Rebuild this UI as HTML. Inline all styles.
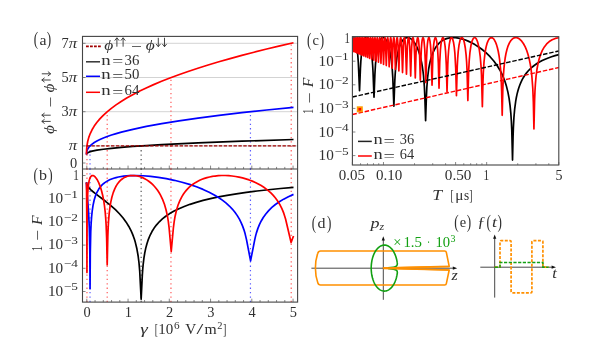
<!DOCTYPE html>
<html><head><meta charset="utf-8"><title>figure</title>
<style>.t{filter:opacity(1)}html,body{margin:0;padding:0;background:#fff;}body{width:598px;height:353px;overflow:hidden;font-family:"Liberation Serif",serif;}</style>
</head><body>
<svg width="598" height="353" viewBox="0 0 598 353" style="display:block">
<rect width="598" height="353" fill="#fff"/>
<defs><clipPath id="ca"><rect x="82.5" y="36.4" width="215.1" height="132.6"/></clipPath>
<clipPath id="cb"><rect x="82.5" y="169.0" width="215.1" height="133.1"/></clipPath>
<clipPath id="cc"><rect x="352.4" y="35.7" width="206.8" height="129.3"/></clipPath></defs>
<line x1="82.5" x2="297.6" y1="43.30" y2="43.30" stroke="#c8c8c8" stroke-width="0.8"/>
<line x1="82.5" x2="297.6" y1="77.50" y2="77.50" stroke="#c8c8c8" stroke-width="0.8"/>
<line x1="82.5" x2="297.6" y1="111.70" y2="111.70" stroke="#c8c8c8" stroke-width="0.8"/>
<line x1="82.5" x2="297.6" y1="145.90" y2="145.90" stroke="#c8c8c8" stroke-width="0.8"/>
<line x1="86.96" x2="86.96" y1="169.00" y2="145.90" stroke="#ff5a5a" stroke-width="1.2" stroke-dasharray="1.3 3.1" />
<line x1="107.20" x2="107.20" y1="169.00" y2="111.70" stroke="#ff5a5a" stroke-width="1.2" stroke-dasharray="1.3 3.1" />
<line x1="170.96" x2="170.96" y1="169.00" y2="77.50" stroke="#ff5a5a" stroke-width="1.2" stroke-dasharray="1.3 3.1" />
<line x1="291.22" x2="291.22" y1="169.00" y2="43.30" stroke="#ff5a5a" stroke-width="1.2" stroke-dasharray="1.3 3.1" />
<line x1="90.02" x2="90.02" y1="169.00" y2="145.90" stroke="#5a5aff" stroke-width="1.2" stroke-dasharray="1.3 3.1" />
<line x1="250.44" x2="250.44" y1="169.00" y2="111.70" stroke="#5a5aff" stroke-width="1.2" stroke-dasharray="1.3 3.1" />
<line x1="141.15" x2="141.15" y1="169.00" y2="145.90" stroke="#555" stroke-width="1.2" stroke-dasharray="1.3 3.1" />
<g clip-path="url(#ca)" fill="none" stroke-width="1.7" stroke-linejoin="round" stroke-linecap="butt">
<path d="M86.5 154.45L86.62 153.8L87.02 153.24L87.75 152.7L88.83 152.18L90.28 151.67L92.1 151.17L96.89 150.19L103.37 149.23L111.49 148.29L121.33 147.37L132.89 146.47L146.4 145.56L161.75 144.67L198.04 142.91L241.91 141.19L293.5 139.49" stroke="#000"/>
<path d="M86.5 154.45L86.62 152.41L87.02 150.63L87.75 148.93L88.83 147.29L90.28 145.68L92.1 144.1L94.3 142.56L96.89 141.03L99.92 139.51L103.37 138.01L107.22 136.52L111.49 135.06L116.19 133.6L121.33 132.15L132.89 129.3L146.4 126.45L161.75 123.64L178.96 120.85L198.04 118.1L219.02 115.37L241.91 112.66L266.73 109.98L293.5 107.32" stroke="#00f"/>
<path d="M86.5 154.45L86.61 149.56L87.01 145.31L87.74 141.25L88.8 137.36L90.23 133.53L92.04 129.78L94.23 126.1L96.8 122.49L99.82 118.89L103.24 115.32L107.08 111.8L111.34 108.32L116.03 104.87L121.15 101.45L126.7 98.07L132.68 94.71L139.21 91.32L146.19 87.96L153.63 84.62L161.54 81.3L169.91 78L178.75 74.72L188.06 71.46L197.85 68.21L208.11 64.98L218.87 61.76L230.09 58.56L241.8 55.37L253.99 52.2L266.67 49.04L279.84 45.89L293.5 42.76" stroke="#f00"/>
<line x1="86.5" x2="297.6" y1="145.90" y2="145.90" stroke="#a00000" stroke-width="1.35" stroke-dasharray="3.4 1.5"/>
</g>
<line x1="86.96" x2="86.96" y1="302.10" y2="169.00" stroke="#ff5a5a" stroke-width="1.2" stroke-dasharray="1.3 3.1" />
<line x1="107.20" x2="107.20" y1="302.10" y2="169.00" stroke="#ff5a5a" stroke-width="1.2" stroke-dasharray="1.3 3.1" />
<line x1="170.96" x2="170.96" y1="302.10" y2="169.00" stroke="#ff5a5a" stroke-width="1.2" stroke-dasharray="1.3 3.1" />
<line x1="291.22" x2="291.22" y1="302.10" y2="169.00" stroke="#ff5a5a" stroke-width="1.2" stroke-dasharray="1.3 3.1" />
<line x1="90.02" x2="90.02" y1="302.10" y2="169.00" stroke="#5a5aff" stroke-width="1.2" stroke-dasharray="1.3 3.1" />
<line x1="250.44" x2="250.44" y1="302.10" y2="169.00" stroke="#5a5aff" stroke-width="1.2" stroke-dasharray="1.3 3.1" />
<line x1="141.15" x2="141.15" y1="302.10" y2="169.00" stroke="#555" stroke-width="1.2" stroke-dasharray="1.3 3.1" />
<g clip-path="url(#cb)" fill="none" stroke-width="1.7" stroke-linejoin="round">
<path d="M86.5 182.48L86.55 183.34L86.71 184.14L87.43 185.8L88.72 187.6L90.63 189.6L92.48 191.25L94.8 193.15L105.48 201.3L110.56 205.39L115.43 209.72L119.65 213.98L123.11 218.01L126.15 222.15L128.82 226.44L131.14 230.94L132.33 233.63L133.42 236.42L134.42 239.34L135.33 242.36L136.88 248.82L138.14 256.01L139.03 263.25L139.73 271.35L141.15 299.29L142.31 275.35L142.72 269.38L143.21 264.03L143.91 258.23L144.76 252.94L145.76 248.12L146.94 243.66L148.38 239.3L150.06 235.28L151.97 231.56L154.13 228.08L156.58 224.84L159.31 221.8L162.36 218.95L165.73 216.26L169.7 213.58L174.09 211.05L178.92 208.67L184.21 206.43L189.99 204.32L196.27 202.32L203.09 200.43L210.48 198.65L218.49 196.95L227.11 195.35L236.38 193.83L246.32 192.39L256.99 191.02L268.38 189.73L280.54 188.51L293.5 187.35" stroke="#000"/>
<path d="M86.5 182.48L86.56 185.82L86.77 189.63L88.05 205.13L88.62 213.34L89.33 228.68L89.81 250.95L90.06 288.62L90.3 252.52L90.74 231.98L91.12 223.68L91.62 216.62L92.27 210.51L93.07 205.22L94.12 200.3L95.4 196.03L96.94 192.3L98.76 189.05L99.8 187.58L100.91 186.2L102.12 184.92L103.42 183.74L104.81 182.64L106.29 181.62L107.89 180.69L109.59 179.84L111.6 178.99L113.74 178.23L116.01 177.57L118.44 177L123.72 176.14L129.6 175.64L136.1 175.5L143.11 175.74L150.57 176.36L158.33 177.33L166.3 178.65L174.25 180.3L182.01 182.23L189.47 184.41L196.5 186.81L203.06 189.41L209.15 192.19L214.74 195.17L218.87 197.7L222.68 200.34L226.18 203.12L229.38 206.02L232.29 209.06L234.93 212.27L237.29 215.63L239.41 219.19L241.11 222.56L242.61 226.09L243.96 229.85L245.13 233.83L246.5 239.67L250.58 260.85L254.76 239.58L255.55 236.12L256.42 232.88L257.81 228.62L259.41 224.66L261.22 220.97L263.26 217.51L265.8 213.94L268.66 210.59L271.86 207.45L275.41 204.5L279.34 201.73L283.65 199.13L288.37 196.68L293.5 194.39" stroke="#00f"/>
<path d="M86.5 182.48L86.83 224.94L86.94 272.48L87.12 217.7L87.35 203.46L87.73 193.32L88.02 189.07L88.37 185.51L88.79 182.56L89.29 180.15L89.89 178.25L90.58 176.85L91.37 175.94L91.8 175.67L92.26 175.53L92.98 175.54L93.74 175.82L94.53 176.36L95.36 177.16L96.2 178.2L97.04 179.47L98.69 182.63L100.18 186.37L101.54 190.68L102.72 195.51L103.74 200.8L104.49 205.91L105.14 211.5L105.67 217.66L106.1 224.38L106.65 238.28L107.2 264.81L107.82 236.4L108.14 228.1L108.56 220.83L109.15 213.83L109.89 207.59L110.78 202.13L111.86 197.24L113.23 192.62L114.84 188.59L115.73 186.79L116.7 185.11L117.73 183.56L118.82 182.16L119.98 180.88L121.21 179.74L122.51 178.72L123.88 177.85L125.31 177.11L126.79 176.51L128.34 176.04L129.94 175.72L131.94 175.52L134 175.53L136.12 175.75L138.26 176.17L140.41 176.8L142.56 177.63L144.68 178.65L146.76 179.86L148.76 181.22L150.7 182.75L152.56 184.43L154.32 186.25L155.98 188.21L157.55 190.3L159.02 192.52L160.39 194.88L162.57 199.38L164.44 204.29L166.02 209.69L167.35 215.64L168.27 221.17L169.04 227.28L171.22 251.54L173.42 227.53L174.18 221.6L175.1 216.2L176.42 210.45L177.99 205.28L179.86 200.6L182.03 196.37L183.33 194.27L184.74 192.27L186.24 190.4L187.85 188.63L189.56 186.97L191.37 185.42L193.29 183.98L195.31 182.65L197.44 181.42L199.68 180.3L202.01 179.3L204.45 178.42L206.98 177.64L209.59 176.98L212.3 176.45L215.07 176.03L218.36 175.69L221.73 175.52L225.15 175.52L228.61 175.67L232.1 175.99L235.59 176.47L239.06 177.11L242.49 177.9L245.84 178.84L249.11 179.92L252.3 181.13L255.37 182.48L258.32 183.96L261.14 185.55L263.83 187.27L266.36 189.1L268.82 191.09L271.11 193.2L273.25 195.42L275.25 197.76L277.09 200.21L278.79 202.81L280.35 205.52L281.77 208.38L282.84 210.83L283.83 213.42L285.57 218.96L291.1 242.53L293.5 235.95" stroke="#f00"/>
</g>
<rect x="82.5" y="36.4" width="215.1" height="265.7" fill="none" stroke="#444" stroke-width="1.1"/>
<line x1="82.5" x2="297.6" y1="169.0" y2="169.0" stroke="#444" stroke-width="1.1"/>
<line x1="82.50" y1="163.00" x2="85.50" y2="163.00" stroke="#555" stroke-width="0.7"/>
<line x1="82.50" y1="145.90" x2="85.50" y2="145.90" stroke="#555" stroke-width="0.7"/>
<line x1="82.50" y1="111.70" x2="85.50" y2="111.70" stroke="#555" stroke-width="0.7"/>
<line x1="82.50" y1="77.50" x2="85.50" y2="77.50" stroke="#555" stroke-width="0.7"/>
<line x1="82.50" y1="43.30" x2="85.50" y2="43.30" stroke="#555" stroke-width="0.7"/>
<line x1="82.50" y1="175.50" x2="85.50" y2="175.50" stroke="#555" stroke-width="0.7"/>
<line x1="82.50" y1="198.70" x2="85.50" y2="198.70" stroke="#555" stroke-width="0.7"/>
<line x1="82.50" y1="221.90" x2="85.50" y2="221.90" stroke="#555" stroke-width="0.7"/>
<line x1="82.50" y1="245.10" x2="85.50" y2="245.10" stroke="#555" stroke-width="0.7"/>
<line x1="82.50" y1="268.30" x2="85.50" y2="268.30" stroke="#555" stroke-width="0.7"/>
<line x1="82.50" y1="291.50" x2="85.50" y2="291.50" stroke="#555" stroke-width="0.7"/>
<line x1="86.80" y1="302.10" x2="86.80" y2="298.70" stroke="#555" stroke-width="0.7"/>
<line x1="86.80" y1="169.00" x2="86.80" y2="165.60" stroke="#555" stroke-width="0.7"/>
<line x1="95.05" y1="302.10" x2="95.05" y2="300.00" stroke="#555" stroke-width="0.7"/>
<line x1="95.05" y1="169.00" x2="95.05" y2="166.90" stroke="#555" stroke-width="0.7"/>
<line x1="103.30" y1="302.10" x2="103.30" y2="300.00" stroke="#555" stroke-width="0.7"/>
<line x1="103.30" y1="169.00" x2="103.30" y2="166.90" stroke="#555" stroke-width="0.7"/>
<line x1="111.55" y1="302.10" x2="111.55" y2="300.00" stroke="#555" stroke-width="0.7"/>
<line x1="111.55" y1="169.00" x2="111.55" y2="166.90" stroke="#555" stroke-width="0.7"/>
<line x1="119.80" y1="302.10" x2="119.80" y2="300.00" stroke="#555" stroke-width="0.7"/>
<line x1="119.80" y1="169.00" x2="119.80" y2="166.90" stroke="#555" stroke-width="0.7"/>
<line x1="128.05" y1="302.10" x2="128.05" y2="298.70" stroke="#555" stroke-width="0.7"/>
<line x1="128.05" y1="169.00" x2="128.05" y2="165.60" stroke="#555" stroke-width="0.7"/>
<line x1="136.30" y1="302.10" x2="136.30" y2="300.00" stroke="#555" stroke-width="0.7"/>
<line x1="136.30" y1="169.00" x2="136.30" y2="166.90" stroke="#555" stroke-width="0.7"/>
<line x1="144.55" y1="302.10" x2="144.55" y2="300.00" stroke="#555" stroke-width="0.7"/>
<line x1="144.55" y1="169.00" x2="144.55" y2="166.90" stroke="#555" stroke-width="0.7"/>
<line x1="152.80" y1="302.10" x2="152.80" y2="300.00" stroke="#555" stroke-width="0.7"/>
<line x1="152.80" y1="169.00" x2="152.80" y2="166.90" stroke="#555" stroke-width="0.7"/>
<line x1="161.05" y1="302.10" x2="161.05" y2="300.00" stroke="#555" stroke-width="0.7"/>
<line x1="161.05" y1="169.00" x2="161.05" y2="166.90" stroke="#555" stroke-width="0.7"/>
<line x1="169.30" y1="302.10" x2="169.30" y2="298.70" stroke="#555" stroke-width="0.7"/>
<line x1="169.30" y1="169.00" x2="169.30" y2="165.60" stroke="#555" stroke-width="0.7"/>
<line x1="177.55" y1="302.10" x2="177.55" y2="300.00" stroke="#555" stroke-width="0.7"/>
<line x1="177.55" y1="169.00" x2="177.55" y2="166.90" stroke="#555" stroke-width="0.7"/>
<line x1="185.80" y1="302.10" x2="185.80" y2="300.00" stroke="#555" stroke-width="0.7"/>
<line x1="185.80" y1="169.00" x2="185.80" y2="166.90" stroke="#555" stroke-width="0.7"/>
<line x1="194.05" y1="302.10" x2="194.05" y2="300.00" stroke="#555" stroke-width="0.7"/>
<line x1="194.05" y1="169.00" x2="194.05" y2="166.90" stroke="#555" stroke-width="0.7"/>
<line x1="202.30" y1="302.10" x2="202.30" y2="300.00" stroke="#555" stroke-width="0.7"/>
<line x1="202.30" y1="169.00" x2="202.30" y2="166.90" stroke="#555" stroke-width="0.7"/>
<line x1="210.55" y1="302.10" x2="210.55" y2="298.70" stroke="#555" stroke-width="0.7"/>
<line x1="210.55" y1="169.00" x2="210.55" y2="165.60" stroke="#555" stroke-width="0.7"/>
<line x1="218.80" y1="302.10" x2="218.80" y2="300.00" stroke="#555" stroke-width="0.7"/>
<line x1="218.80" y1="169.00" x2="218.80" y2="166.90" stroke="#555" stroke-width="0.7"/>
<line x1="227.05" y1="302.10" x2="227.05" y2="300.00" stroke="#555" stroke-width="0.7"/>
<line x1="227.05" y1="169.00" x2="227.05" y2="166.90" stroke="#555" stroke-width="0.7"/>
<line x1="235.30" y1="302.10" x2="235.30" y2="300.00" stroke="#555" stroke-width="0.7"/>
<line x1="235.30" y1="169.00" x2="235.30" y2="166.90" stroke="#555" stroke-width="0.7"/>
<line x1="243.55" y1="302.10" x2="243.55" y2="300.00" stroke="#555" stroke-width="0.7"/>
<line x1="243.55" y1="169.00" x2="243.55" y2="166.90" stroke="#555" stroke-width="0.7"/>
<line x1="251.80" y1="302.10" x2="251.80" y2="298.70" stroke="#555" stroke-width="0.7"/>
<line x1="251.80" y1="169.00" x2="251.80" y2="165.60" stroke="#555" stroke-width="0.7"/>
<line x1="260.05" y1="302.10" x2="260.05" y2="300.00" stroke="#555" stroke-width="0.7"/>
<line x1="260.05" y1="169.00" x2="260.05" y2="166.90" stroke="#555" stroke-width="0.7"/>
<line x1="268.30" y1="302.10" x2="268.30" y2="300.00" stroke="#555" stroke-width="0.7"/>
<line x1="268.30" y1="169.00" x2="268.30" y2="166.90" stroke="#555" stroke-width="0.7"/>
<line x1="276.55" y1="302.10" x2="276.55" y2="300.00" stroke="#555" stroke-width="0.7"/>
<line x1="276.55" y1="169.00" x2="276.55" y2="166.90" stroke="#555" stroke-width="0.7"/>
<line x1="284.80" y1="302.10" x2="284.80" y2="300.00" stroke="#555" stroke-width="0.7"/>
<line x1="284.80" y1="169.00" x2="284.80" y2="166.90" stroke="#555" stroke-width="0.7"/>
<line x1="293.05" y1="302.10" x2="293.05" y2="298.70" stroke="#555" stroke-width="0.7"/>
<line x1="293.05" y1="169.00" x2="293.05" y2="165.60" stroke="#555" stroke-width="0.7"/>
<text class="t" x="61.40" y="47.80" font-family="Liberation Serif, serif" font-size="15.50" fill="#303030" textLength="7.20" lengthAdjust="spacingAndGlyphs">7</text>
<text class="t" x="68.80" y="47.80" font-family="Liberation Serif, serif" font-size="15.50" fill="#303030" font-style="italic" textLength="8.40" lengthAdjust="spacingAndGlyphs">π</text>
<text class="t" x="61.40" y="82.00" font-family="Liberation Serif, serif" font-size="15.50" fill="#303030" textLength="7.20" lengthAdjust="spacingAndGlyphs">5</text>
<text class="t" x="68.80" y="82.00" font-family="Liberation Serif, serif" font-size="15.50" fill="#303030" font-style="italic" textLength="8.40" lengthAdjust="spacingAndGlyphs">π</text>
<text class="t" x="61.40" y="116.20" font-family="Liberation Serif, serif" font-size="15.50" fill="#303030" textLength="7.20" lengthAdjust="spacingAndGlyphs">3</text>
<text class="t" x="68.80" y="116.20" font-family="Liberation Serif, serif" font-size="15.50" fill="#303030" font-style="italic" textLength="8.40" lengthAdjust="spacingAndGlyphs">π</text>
<text class="t" x="68.80" y="149.50" font-family="Liberation Serif, serif" font-size="15.50" fill="#303030" font-style="italic" textLength="8.40" lengthAdjust="spacingAndGlyphs">π</text>
<text class="t" x="70.00" y="167.50" font-family="Liberation Serif, serif" font-size="15.50" fill="#303030" textLength="7.20" lengthAdjust="spacingAndGlyphs">0</text>
<text class="t" x="73.20" y="179.70" font-family="Liberation Serif, serif" font-size="15.50" fill="#303030" textLength="5.60" lengthAdjust="spacingAndGlyphs">1</text>
<text class="t" x="48.00" y="202.90" font-family="Liberation Serif, serif" font-size="15.50" fill="#303030" textLength="15.20" lengthAdjust="spacingAndGlyphs">10</text>
<text class="t" x="63.80" y="197.60" font-family="Liberation Serif, serif" font-size="10.80" fill="#303030" textLength="14.20" lengthAdjust="spacingAndGlyphs">−1</text>
<text class="t" x="48.00" y="226.10" font-family="Liberation Serif, serif" font-size="15.50" fill="#303030" textLength="15.20" lengthAdjust="spacingAndGlyphs">10</text>
<text class="t" x="63.80" y="220.80" font-family="Liberation Serif, serif" font-size="10.80" fill="#303030" textLength="14.20" lengthAdjust="spacingAndGlyphs">−2</text>
<text class="t" x="48.00" y="249.30" font-family="Liberation Serif, serif" font-size="15.50" fill="#303030" textLength="15.20" lengthAdjust="spacingAndGlyphs">10</text>
<text class="t" x="63.80" y="244.00" font-family="Liberation Serif, serif" font-size="10.80" fill="#303030" textLength="14.20" lengthAdjust="spacingAndGlyphs">−3</text>
<text class="t" x="48.00" y="272.50" font-family="Liberation Serif, serif" font-size="15.50" fill="#303030" textLength="15.20" lengthAdjust="spacingAndGlyphs">10</text>
<text class="t" x="63.80" y="267.20" font-family="Liberation Serif, serif" font-size="10.80" fill="#303030" textLength="14.20" lengthAdjust="spacingAndGlyphs">−4</text>
<text class="t" x="48.00" y="295.70" font-family="Liberation Serif, serif" font-size="15.50" fill="#303030" textLength="15.20" lengthAdjust="spacingAndGlyphs">10</text>
<text class="t" x="63.80" y="290.40" font-family="Liberation Serif, serif" font-size="10.80" fill="#303030" textLength="14.20" lengthAdjust="spacingAndGlyphs">−5</text>
<text class="t" x="87.20" y="317.30" font-family="Liberation Serif, serif" font-size="15.50" fill="#303030" text-anchor="middle" textLength="7.20" lengthAdjust="spacingAndGlyphs">0</text>
<text class="t" x="128.45" y="317.30" font-family="Liberation Serif, serif" font-size="15.50" fill="#303030" text-anchor="middle" textLength="7.20" lengthAdjust="spacingAndGlyphs">1</text>
<text class="t" x="169.70" y="317.30" font-family="Liberation Serif, serif" font-size="15.50" fill="#303030" text-anchor="middle" textLength="7.20" lengthAdjust="spacingAndGlyphs">2</text>
<text class="t" x="210.95" y="317.30" font-family="Liberation Serif, serif" font-size="15.50" fill="#303030" text-anchor="middle" textLength="7.20" lengthAdjust="spacingAndGlyphs">3</text>
<text class="t" x="252.20" y="317.30" font-family="Liberation Serif, serif" font-size="15.50" fill="#303030" text-anchor="middle" textLength="7.20" lengthAdjust="spacingAndGlyphs">4</text>
<text class="t" x="293.45" y="317.30" font-family="Liberation Serif, serif" font-size="15.50" fill="#303030" text-anchor="middle" textLength="7.20" lengthAdjust="spacingAndGlyphs">5</text>
<text class="t" x="140.20" y="334.40" font-family="Liberation Serif, serif" font-size="15.50" fill="#303030" font-style="italic" textLength="7.60" lengthAdjust="spacingAndGlyphs">γ</text>
<text class="t" x="154.80" y="334.40" font-family="Liberation Serif, serif" font-size="15.50" fill="#303030" textLength="3.20" lengthAdjust="spacingAndGlyphs">[</text>
<text class="t" x="158.20" y="334.40" font-family="Liberation Serif, serif" font-size="15.50" fill="#303030" textLength="15.00" lengthAdjust="spacingAndGlyphs">10</text>
<text class="t" x="174.00" y="329.10" font-family="Liberation Serif, serif" font-size="10.80" fill="#303030" textLength="5.60" lengthAdjust="spacingAndGlyphs">6</text>
<text class="t" x="185.20" y="334.40" font-family="Liberation Serif, serif" font-size="15.50" fill="#303030" textLength="11.00" lengthAdjust="spacingAndGlyphs">V</text>
<text class="t" x="196.60" y="334.40" font-family="Liberation Serif, serif" font-size="15.50" fill="#303030" textLength="6.80" lengthAdjust="spacingAndGlyphs">/</text>
<text class="t" x="204.40" y="334.40" font-family="Liberation Serif, serif" font-size="15.50" fill="#303030" textLength="12.20" lengthAdjust="spacingAndGlyphs">m</text>
<text class="t" x="217.20" y="329.10" font-family="Liberation Serif, serif" font-size="10.80" fill="#303030" textLength="5.20" lengthAdjust="spacingAndGlyphs">2</text>
<text class="t" x="223.00" y="334.40" font-family="Liberation Serif, serif" font-size="15.50" fill="#303030" textLength="3.40" lengthAdjust="spacingAndGlyphs">]</text>
<text class="t" x="33.80" y="45.20" font-family="Liberation Serif, serif" font-size="18.50" fill="#303030" textLength="4.40" lengthAdjust="spacingAndGlyphs">(</text>
<text class="t" x="39.40" y="44.50" font-family="Liberation Serif, serif" font-size="15.50" fill="#303030" textLength="7.00" lengthAdjust="spacingAndGlyphs">a</text>
<text class="t" x="46.70" y="45.20" font-family="Liberation Serif, serif" font-size="18.50" fill="#303030" textLength="4.40" lengthAdjust="spacingAndGlyphs">)</text>
<text class="t" x="33.50" y="180.60" font-family="Liberation Serif, serif" font-size="18.50" fill="#303030" textLength="4.40" lengthAdjust="spacingAndGlyphs">(</text>
<text class="t" x="39.10" y="179.90" font-family="Liberation Serif, serif" font-size="15.50" fill="#303030" textLength="8.00" lengthAdjust="spacingAndGlyphs">b</text>
<text class="t" x="48.30" y="180.60" font-family="Liberation Serif, serif" font-size="18.50" fill="#303030" textLength="4.40" lengthAdjust="spacingAndGlyphs">)</text>
<g transform="translate(54.3,134) rotate(-90)">
<text class="t" x="0.00" y="0.00" font-family="Liberation Serif, serif" font-size="15.50" fill="#303030" font-style="italic" textLength="9.00" lengthAdjust="spacingAndGlyphs">ϕ</text>
<line x1="12.60" x2="12.60" y1="-3.60" y2="-12.50" stroke="#303030" stroke-width="0.9"/>
<path d="M10.40 -9.70 L12.60 -12.50 L14.80 -9.70" fill="none" stroke="#303030" stroke-width="0.9"/>
<line x1="18.80" x2="18.80" y1="-3.60" y2="-12.50" stroke="#303030" stroke-width="0.9"/>
<path d="M16.60 -9.70 L18.80 -12.50 L21.00 -9.70" fill="none" stroke="#303030" stroke-width="0.9"/>
<text class="t" x="26.60" y="1.90" font-family="Liberation Serif, serif" font-size="15.50" fill="#303030" textLength="11.00" lengthAdjust="spacingAndGlyphs">−</text>
<text class="t" x="41.40" y="0.00" font-family="Liberation Serif, serif" font-size="15.50" fill="#303030" font-style="italic" textLength="9.00" lengthAdjust="spacingAndGlyphs">ϕ</text>
<line x1="54.00" x2="54.00" y1="-3.60" y2="-12.50" stroke="#303030" stroke-width="0.9"/>
<path d="M51.80 -9.70 L54.00 -12.50 L56.20 -9.70" fill="none" stroke="#303030" stroke-width="0.9"/>
<line x1="60.20" x2="60.20" y1="-3.60" y2="-12.50" stroke="#303030" stroke-width="0.9"/>
<path d="M58.00 -6.40 L60.20 -3.60 L62.40 -6.40" fill="none" stroke="#303030" stroke-width="0.9"/>
</g>
<g transform="translate(41.8,251.3) rotate(-90)">
<text class="t" x="0.00" y="0.00" font-family="Liberation Serif, serif" font-size="15.50" fill="#303030" textLength="5.40" lengthAdjust="spacingAndGlyphs">1</text>
<text class="t" x="10.60" y="1.60" font-family="Liberation Serif, serif" font-size="15.50" fill="#303030" textLength="11.00" lengthAdjust="spacingAndGlyphs">−</text>
<text class="t" x="26.30" y="0.00" font-family="Liberation Serif, serif" font-size="15.50" fill="#303030" font-style="italic" textLength="9.60" lengthAdjust="spacingAndGlyphs">F</text>
</g>
<line x1="86.0" x2="100.8" y1="46.4" y2="46.4" stroke="#a00000" stroke-width="1.7" stroke-dasharray="2.8 1.2"/>
<text class="t" x="104.30" y="50.30" font-family="Liberation Serif, serif" font-size="15.50" fill="#303030" font-style="italic" textLength="9.00" lengthAdjust="spacingAndGlyphs">ϕ</text>
<line x1="116.90" x2="116.90" y1="46.70" y2="37.80" stroke="#303030" stroke-width="0.9"/>
<path d="M114.70 40.60 L116.90 37.80 L119.10 40.60" fill="none" stroke="#303030" stroke-width="0.9"/>
<line x1="123.10" x2="123.10" y1="46.70" y2="37.80" stroke="#303030" stroke-width="0.9"/>
<path d="M120.90 40.60 L123.10 37.80 L125.30 40.60" fill="none" stroke="#303030" stroke-width="0.9"/>
<text class="t" x="130.90" y="52.20" font-family="Liberation Serif, serif" font-size="15.50" fill="#303030" textLength="11.00" lengthAdjust="spacingAndGlyphs">−</text>
<text class="t" x="145.70" y="50.30" font-family="Liberation Serif, serif" font-size="15.50" fill="#303030" font-style="italic" textLength="9.00" lengthAdjust="spacingAndGlyphs">ϕ</text>
<line x1="158.30" x2="158.30" y1="46.70" y2="37.80" stroke="#303030" stroke-width="0.9"/>
<path d="M156.10 43.90 L158.30 46.70 L160.50 43.90" fill="none" stroke="#303030" stroke-width="0.9"/>
<line x1="164.50" x2="164.50" y1="46.70" y2="37.80" stroke="#303030" stroke-width="0.9"/>
<path d="M162.30 43.90 L164.50 46.70 L166.70 43.90" fill="none" stroke="#303030" stroke-width="0.9"/>
<line x1="86.0" x2="100.0" y1="61.8" y2="61.8" stroke="#333" stroke-width="1.5"/>
<text class="t" x="101.30" y="64.80" font-family="Liberation Serif, serif" font-size="15.50" fill="#303030" textLength="9.40" lengthAdjust="spacingAndGlyphs">n</text>
<text class="t" x="112.20" y="66.30" font-family="Liberation Serif, serif" font-size="15.50" fill="#303030" textLength="11.00" lengthAdjust="spacingAndGlyphs">=</text>
<text class="t" x="124.60" y="64.80" font-family="Liberation Serif, serif" font-size="15.50" fill="#303030" textLength="14.80" lengthAdjust="spacingAndGlyphs">36</text>
<line x1="86.0" x2="100.0" y1="76.3" y2="76.3" stroke="#00f" stroke-width="1.5"/>
<text class="t" x="101.30" y="79.30" font-family="Liberation Serif, serif" font-size="15.50" fill="#303030" textLength="9.40" lengthAdjust="spacingAndGlyphs">n</text>
<text class="t" x="112.20" y="80.80" font-family="Liberation Serif, serif" font-size="15.50" fill="#303030" textLength="11.00" lengthAdjust="spacingAndGlyphs">=</text>
<text class="t" x="124.60" y="79.30" font-family="Liberation Serif, serif" font-size="15.50" fill="#303030" textLength="14.80" lengthAdjust="spacingAndGlyphs">50</text>
<line x1="86.0" x2="100.0" y1="92.3" y2="92.3" stroke="#f00" stroke-width="1.5"/>
<text class="t" x="101.30" y="95.30" font-family="Liberation Serif, serif" font-size="15.50" fill="#303030" textLength="9.40" lengthAdjust="spacingAndGlyphs">n</text>
<text class="t" x="112.20" y="96.80" font-family="Liberation Serif, serif" font-size="15.50" fill="#303030" textLength="11.00" lengthAdjust="spacingAndGlyphs">=</text>
<text class="t" x="124.60" y="95.30" font-family="Liberation Serif, serif" font-size="15.50" fill="#303030" textLength="14.80" lengthAdjust="spacingAndGlyphs">64</text>
<g clip-path="url(#cc)" fill="none" stroke-linejoin="round">
<path d="M352.4 38.62L353 37.81L353.31 37.63L353.62 37.61L353.94 37.73L354.25 38.01L354.87 39.02L355.46 40.6L356.03 42.73L356.56 45.37L357.04 48.49L357.76 54.98L358.34 62.84L359.53 90.68L360.42 68.82L360.86 60.96L361.62 52.4L362.08 48.82L362.6 45.71L363.25 42.77L363.97 40.47L364.74 38.82L365.15 38.25L365.56 37.86L365.98 37.64L366.41 37.61L366.84 37.75L367.27 38.07L368.13 39.24L368.95 41.09L369.93 44.38L370.81 48.63L371.57 53.76L372.21 59.74L372.66 65.54L373.03 72.05L374.01 97.25L374.9 74.37L375.44 64.93L375.87 59.82L376.37 55.28L376.94 51.26L377.6 47.72L378.43 44.38L379.35 41.67L380.36 39.63L380.9 38.87L381.45 38.29L382.02 37.88L382.6 37.65L383.19 37.61L383.78 37.75L384.38 38.07L384.98 38.57L386.15 40.11L386.99 41.69L387.79 43.61L388.55 45.87L389.25 48.43L390.49 54.42L391.51 61.55L392.22 68.93L392.78 77.42L393.87 106.25L394.79 81.18L395.14 74.63L395.58 68.78L396.19 62.76L396.93 57.45L397.81 52.78L398.82 48.73L400.12 44.98L400.83 43.38L401.58 41.96L402.38 40.75L403.22 39.72L404.09 38.89L405 38.27L405.95 37.84L406.92 37.63L407.92 37.62L408.92 37.83L409.94 38.24L410.97 38.86L411.98 39.69L412.99 40.71L414.5 42.65L415.94 45.02L417.29 47.78L418.53 50.9L419.65 54.33L420.66 58.1L421.56 62.2L422.34 66.63L422.96 71.02L423.51 75.77L424.36 86.52L424.85 96.92L425.61 120.65L426.35 97.65L426.8 88.06L427.57 77.99L428.61 69.51L429.3 65.47L430.09 61.76L430.98 58.35L431.98 55.22L433.09 52.37L434.32 49.78L435.66 47.44L437.13 45.36L438.88 43.36L440.79 41.65L442.85 40.25L445.07 39.14L447.44 38.33L449.96 37.82L452.63 37.61L455.44 37.69L458.46 38.09L461.6 38.81L464.84 39.82L468.17 41.14L471.55 42.74L474.92 44.61L478.26 46.71L481.5 49.03L485.95 52.7L490.06 56.69L493.78 60.95L497.09 65.47L499.99 70.22L502.5 75.24L504.66 80.6L506.48 86.34L507.91 92.14L509.09 98.43L510.05 105.35L510.81 113.06L511.35 121L511.77 130.07L512.52 160.05L513.05 137.13L513.37 127.66L513.92 117.62L514.66 109.06L515.72 101.1L516.35 97.51L517.06 94.14L517.86 90.98L518.75 88.01L519.73 85.21L520.8 82.56L522.06 79.92L523.43 77.43L524.93 75.08L526.57 72.87L528.34 70.78L530.25 68.82L532.31 66.96L534.53 65.22L536.92 63.57L539.47 62.02L542.2 60.57L545.12 59.21L548.23 57.93L551.53 56.74L555.06 55.62L558.8 54.58" stroke="#000" stroke-width="1.7"/>
<path d="M352.4 49.02L352.62 40.32L352.75 38.17L352.88 37.62L353.06 39.46L353.62 51.56L354.19 39.33L354.41 37.61L354.61 39.55L355.18 52.22L355.75 39.49L355.98 37.6L356.2 39.74L356.78 52.91L357.36 39.66L357.6 37.6L357.84 39.89L358.43 53.62L359.02 39.86L359.28 37.6L359.53 40.09L360.13 54.35L360.73 40.02L361.01 37.6L361.28 40.27L361.88 55.1L362.49 40.24L362.64 38.22L362.79 37.6L363.08 40.49L363.7 55.88L364.32 40.42L364.48 38.26L364.64 37.6L364.95 40.71L365.58 56.68L366.21 40.65L366.38 38.33L366.55 37.6L366.72 38.5L366.88 40.95L367.52 57.52L368.17 40.86L368.35 38.37L368.53 37.6L368.72 38.58L368.89 41.23L369.54 58.38L370.2 41.13L370.39 38.45L370.59 37.6L370.79 38.63L370.98 41.49L371.64 59.28L372.31 41.39L372.51 38.51L372.73 37.6L372.94 38.71L373.15 41.77L373.82 60.22L374.51 41.65L374.72 38.58L374.96 37.6L375.19 38.8L375.41 42.07L376.09 61.19L376.79 41.93L377.03 38.64L377.28 37.6L377.53 38.89L377.77 42.38L378.47 62.21L379.18 42.25L379.44 38.73L379.71 37.6L379.98 38.98L380.23 42.74L380.95 63.28L381.68 42.57L381.96 38.79L382.1 37.87L382.25 37.6L382.55 39.07L382.82 43.09L383.55 64.39L384.31 42.91L384.6 38.89L384.76 37.89L384.92 37.6L385.24 39.19L385.53 43.47L386.29 65.57L387.06 43.24L387.38 38.96L387.55 37.9L387.73 37.61L388.08 39.3L388.39 43.88L389.17 66.8L389.97 43.61L390.31 39.05L390.5 37.92L390.69 37.61L390.88 38.11L391.07 39.41L391.42 44.31L392.21 68.11L393.04 44L393.41 39.14L393.61 37.94L393.82 37.61L394.04 38.15L394.24 39.54L394.61 44.76L395.44 69.49L396.29 44.46L396.69 39.26L396.92 37.97L397.15 37.61L397.38 38.18L397.61 39.68L398.02 45.25L398.87 70.96L399.75 44.91L400.19 39.37L400.44 37.99L400.7 37.61L400.95 38.22L401.2 39.83L401.65 45.77L402.53 72.53L403.44 45.38L403.93 39.47L404.21 38.01L404.49 37.61L404.78 38.28L405.05 40L405.54 46.33L406.46 74.22L407.41 45.86L407.95 39.59L408.26 38.03L408.42 37.68L408.58 37.61L408.89 38.33L409.2 40.16L409.74 46.93L410.69 76.03L411.34 54.46L411.7 46.41L412.29 39.72L412.64 38.06L412.81 37.68L412.99 37.61L413.35 38.39L413.69 40.35L414.29 47.59L414.65 55.97L415.29 78.01L415.94 55.81L416.35 46.98L417.02 39.85L417.4 38.08L417.6 37.69L417.81 37.61L418.21 38.45L418.59 40.57L419.27 48.31L419.67 57.48L420.32 80.16L420.98 57.24L421.44 47.57L421.79 43.17L422.19 39.98L422.63 38.11L422.86 37.69L423.09 37.62L423.55 38.53L423.99 40.81L424.75 49.09L425.2 59.14L425.86 82.54L426.54 58.83L427.06 48.24L427.46 43.54L427.92 40.13L428.42 38.13L428.68 37.69L428.95 37.62L429.22 37.93L429.48 38.62L429.99 41.08L430.45 44.89L430.85 49.97L431.37 60.94L432.04 85.19L432.74 60.49L433.33 48.93L433.79 43.91L434.32 40.29L434.9 38.16L435.21 37.69L435.52 37.62L435.84 37.97L436.15 38.72L436.74 41.38L437.27 45.49L437.73 50.93L438.33 63.02L439.02 88.18L439.74 62.36L440.43 49.68L440.96 44.31L441.58 40.43L442.28 38.17L442.65 37.68L443.02 37.63L443.39 38.02L443.76 38.84L444.47 41.75L445.09 46.18L445.63 52.03L446.32 65.27L447.03 91.62L447.79 64.43L448.15 56.83L448.6 50.49L449.24 44.72L449.98 40.59L450.4 39.16L450.83 38.18L451.28 37.68L451.73 37.64L452.19 38.09L452.64 39L453.5 42.18L454.25 47.02L454.89 53.34L455.7 67.93L456.45 95.66L457.25 66.77L457.68 58.36L458.23 51.37L459.01 45.17L459.94 40.73L460.45 39.21L461 38.18L461.56 37.67L462.14 37.66L462.72 38.18L463.29 39.21L463.84 40.74L464.37 42.74L465.31 48.02L466.09 54.9L466.64 62.31L467.07 71.06L467.86 100.55L468.73 69.34L469.26 59.97L469.96 52.28L470.95 45.59L471.53 42.96L472.16 40.84L472.85 39.22L473.56 38.16L474.31 37.65L475.08 37.7L475.85 38.33L476.61 39.52L477.34 41.25L478.03 43.49L479.26 49.33L480.26 56.89L480.96 65.12L481.49 74.88L482.35 106.77L482.93 83.03L483.33 72.32L484.03 61.74L484.98 53.2L485.62 49.28L486.35 45.92L487.16 43.1L488.05 40.84L489.02 39.15L490.04 38.07L491.12 37.62L492.22 37.79L493.34 38.6L494.44 40.03L495.49 42.06L496.49 44.63L497.4 47.7L498.23 51.24L498.96 55.23L499.61 59.67L500.56 68.92L501.24 80L501.64 91.13L502.2 115.28L502.82 89.12L503.42 75.55L503.88 69.09L504.45 63.37L505.13 58.27L505.93 53.76L506.95 49.48L508.11 45.84L509.43 42.84L510.9 40.5L512.51 38.83L513.36 38.25L514.24 37.86L515.14 37.64L516.06 37.61L516.99 37.76L517.94 38.08L519.85 39.29L521.73 41.19L523.53 43.74L525.22 46.89L526.73 50.54L528.09 54.68L529.28 59.3L530.3 64.4L531.09 69.48L531.76 75.05L532.77 87.95L533.35 102.1L533.94 128.9L534.6 99.86L534.96 91.21L535.42 83.65L536.06 76.38L536.87 70L537.86 64.33L539.05 59.3L540.55 54.56L542.31 50.44L544.34 46.91L546.65 43.95L549.25 41.55L552.15 39.72L555.33 38.45L558.8 37.75" stroke="#f00" stroke-width="1.7"/>
<line x1="352.4" y1="97.0" x2="558.8" y2="51.0" stroke="#000" stroke-width="1.4" stroke-dasharray="4.5 1.8"/>
<line x1="352.4" y1="114.5" x2="558.8" y2="67.5" stroke="#f00" stroke-width="1.4" stroke-dasharray="4.5 1.8"/>
</g>
<rect x="352.4" y="36.6" width="206.4" height="128.4" fill="none" stroke="#444" stroke-width="1.1"/>
<rect x="356.8" y="106.3" width="6" height="6" fill="#ff9a00"/><rect x="358.5" y="108" width="2.6" height="2.6" fill="#f00"/>
<line x1="352.40" y1="37.60" x2="355.40" y2="37.60" stroke="#555" stroke-width="0.7"/>
<line x1="352.40" y1="61.20" x2="355.40" y2="61.20" stroke="#555" stroke-width="0.7"/>
<line x1="352.40" y1="84.80" x2="355.40" y2="84.80" stroke="#555" stroke-width="0.7"/>
<line x1="352.40" y1="108.40" x2="355.40" y2="108.40" stroke="#555" stroke-width="0.7"/>
<line x1="352.40" y1="132.00" x2="355.40" y2="132.00" stroke="#555" stroke-width="0.7"/>
<line x1="352.40" y1="155.60" x2="355.40" y2="155.60" stroke="#555" stroke-width="0.7"/>
<line x1="360.57" y1="165.00" x2="360.57" y2="163.20" stroke="#555" stroke-width="0.7"/>
<line x1="367.48" y1="165.00" x2="367.48" y2="163.20" stroke="#555" stroke-width="0.7"/>
<line x1="373.47" y1="165.00" x2="373.47" y2="163.20" stroke="#555" stroke-width="0.7"/>
<line x1="378.74" y1="165.00" x2="378.74" y2="163.20" stroke="#555" stroke-width="0.7"/>
<line x1="414.53" y1="165.00" x2="414.53" y2="163.20" stroke="#555" stroke-width="0.7"/>
<line x1="432.71" y1="165.00" x2="432.71" y2="163.20" stroke="#555" stroke-width="0.7"/>
<line x1="445.60" y1="165.00" x2="445.60" y2="163.20" stroke="#555" stroke-width="0.7"/>
<line x1="463.77" y1="165.00" x2="463.77" y2="163.20" stroke="#555" stroke-width="0.7"/>
<line x1="470.68" y1="165.00" x2="470.68" y2="163.20" stroke="#555" stroke-width="0.7"/>
<line x1="476.67" y1="165.00" x2="476.67" y2="163.20" stroke="#555" stroke-width="0.7"/>
<line x1="481.94" y1="165.00" x2="481.94" y2="163.20" stroke="#555" stroke-width="0.7"/>
<line x1="517.73" y1="165.00" x2="517.73" y2="163.20" stroke="#555" stroke-width="0.7"/>
<line x1="535.91" y1="165.00" x2="535.91" y2="163.20" stroke="#555" stroke-width="0.7"/>
<line x1="548.80" y1="165.00" x2="548.80" y2="163.20" stroke="#555" stroke-width="0.7"/>
<line x1="352.40" y1="165.00" x2="352.40" y2="162.00" stroke="#555" stroke-width="0.7"/>
<line x1="383.47" y1="165.00" x2="383.47" y2="162.00" stroke="#555" stroke-width="0.7"/>
<line x1="455.60" y1="165.00" x2="455.60" y2="162.00" stroke="#555" stroke-width="0.7"/>
<line x1="486.67" y1="165.00" x2="486.67" y2="162.00" stroke="#555" stroke-width="0.7"/>
<line x1="558.80" y1="165.00" x2="558.80" y2="162.00" stroke="#555" stroke-width="0.7"/>
<text class="t" x="344.60" y="42.80" font-family="Liberation Serif, serif" font-size="15.50" fill="#303030" textLength="5.40" lengthAdjust="spacingAndGlyphs">1</text>
<text class="t" x="318.60" y="65.70" font-family="Liberation Serif, serif" font-size="15.50" fill="#303030" textLength="15.20" lengthAdjust="spacingAndGlyphs">10</text>
<text class="t" x="334.40" y="60.40" font-family="Liberation Serif, serif" font-size="10.80" fill="#303030" textLength="14.20" lengthAdjust="spacingAndGlyphs">−1</text>
<text class="t" x="318.60" y="89.30" font-family="Liberation Serif, serif" font-size="15.50" fill="#303030" textLength="15.20" lengthAdjust="spacingAndGlyphs">10</text>
<text class="t" x="334.40" y="84.00" font-family="Liberation Serif, serif" font-size="10.80" fill="#303030" textLength="14.20" lengthAdjust="spacingAndGlyphs">−2</text>
<text class="t" x="318.60" y="112.90" font-family="Liberation Serif, serif" font-size="15.50" fill="#303030" textLength="15.20" lengthAdjust="spacingAndGlyphs">10</text>
<text class="t" x="334.40" y="107.60" font-family="Liberation Serif, serif" font-size="10.80" fill="#303030" textLength="14.20" lengthAdjust="spacingAndGlyphs">−3</text>
<text class="t" x="318.60" y="136.50" font-family="Liberation Serif, serif" font-size="15.50" fill="#303030" textLength="15.20" lengthAdjust="spacingAndGlyphs">10</text>
<text class="t" x="334.40" y="131.20" font-family="Liberation Serif, serif" font-size="10.80" fill="#303030" textLength="14.20" lengthAdjust="spacingAndGlyphs">−4</text>
<text class="t" x="318.60" y="160.10" font-family="Liberation Serif, serif" font-size="15.50" fill="#303030" textLength="15.20" lengthAdjust="spacingAndGlyphs">10</text>
<text class="t" x="334.40" y="154.80" font-family="Liberation Serif, serif" font-size="10.80" fill="#303030" textLength="14.20" lengthAdjust="spacingAndGlyphs">−5</text>
<text class="t" x="338.80" y="179.80" font-family="Liberation Serif, serif" font-size="15.50" fill="#303030" textLength="26.20" lengthAdjust="spacingAndGlyphs">0.05</text>
<text class="t" x="376.00" y="179.80" font-family="Liberation Serif, serif" font-size="15.50" fill="#303030" textLength="26.30" lengthAdjust="spacingAndGlyphs">0.10</text>
<text class="t" x="444.80" y="179.80" font-family="Liberation Serif, serif" font-size="15.50" fill="#303030" textLength="26.60" lengthAdjust="spacingAndGlyphs">0.50</text>
<text class="t" x="483.60" y="179.80" font-family="Liberation Serif, serif" font-size="15.50" fill="#303030" textLength="5.60" lengthAdjust="spacingAndGlyphs">1</text>
<text class="t" x="555.40" y="179.80" font-family="Liberation Serif, serif" font-size="15.50" fill="#303030" textLength="7.00" lengthAdjust="spacingAndGlyphs">5</text>
<text class="t" x="432.20" y="199.80" font-family="Liberation Serif, serif" font-size="15.50" fill="#303030" font-style="italic" textLength="9.80" lengthAdjust="spacingAndGlyphs">T</text>
<text class="t" x="450.50" y="199.80" font-family="Liberation Serif, serif" font-size="15.50" fill="#303030" textLength="3.20" lengthAdjust="spacingAndGlyphs">[</text>
<text class="t" x="455.30" y="199.80" font-family="Liberation Serif, serif" font-size="15.50" fill="#303030" textLength="8.20" lengthAdjust="spacingAndGlyphs">μ</text>
<text class="t" x="464.00" y="199.80" font-family="Liberation Serif, serif" font-size="15.50" fill="#303030" textLength="5.20" lengthAdjust="spacingAndGlyphs">s</text>
<text class="t" x="469.20" y="199.80" font-family="Liberation Serif, serif" font-size="15.50" fill="#303030" textLength="3.20" lengthAdjust="spacingAndGlyphs">]</text>
<text class="t" x="306.90" y="46.00" font-family="Liberation Serif, serif" font-size="18.50" fill="#303030" textLength="4.40" lengthAdjust="spacingAndGlyphs">(</text>
<text class="t" x="312.50" y="45.30" font-family="Liberation Serif, serif" font-size="15.50" fill="#303030" textLength="6.40" lengthAdjust="spacingAndGlyphs">c</text>
<text class="t" x="319.80" y="46.00" font-family="Liberation Serif, serif" font-size="18.50" fill="#303030" textLength="4.40" lengthAdjust="spacingAndGlyphs">)</text>
<g transform="translate(313.2,114) rotate(-90)">
<text class="t" x="0.00" y="0.00" font-family="Liberation Serif, serif" font-size="15.50" fill="#303030" textLength="5.40" lengthAdjust="spacingAndGlyphs">1</text>
<text class="t" x="10.40" y="1.60" font-family="Liberation Serif, serif" font-size="15.50" fill="#303030" textLength="11.20" lengthAdjust="spacingAndGlyphs">−</text>
<text class="t" x="26.70" y="0.00" font-family="Liberation Serif, serif" font-size="15.50" fill="#303030" font-style="italic" textLength="9.60" lengthAdjust="spacingAndGlyphs">F</text>
</g>
<line x1="358" x2="371.8" y1="141.4" y2="141.4" stroke="#222" stroke-width="1.5"/>
<text class="t" x="373.40" y="143.90" font-family="Liberation Serif, serif" font-size="15.50" fill="#303030" textLength="9.20" lengthAdjust="spacingAndGlyphs">n</text>
<text class="t" x="383.60" y="146.10" font-family="Liberation Serif, serif" font-size="15.50" fill="#303030" textLength="11.40" lengthAdjust="spacingAndGlyphs">=</text>
<text class="t" x="399.80" y="143.90" font-family="Liberation Serif, serif" font-size="15.50" fill="#303030" textLength="14.40" lengthAdjust="spacingAndGlyphs">36</text>
<line x1="358" x2="371.8" y1="156.0" y2="156.0" stroke="#f00" stroke-width="1.5"/>
<text class="t" x="373.40" y="158.50" font-family="Liberation Serif, serif" font-size="15.50" fill="#303030" textLength="9.20" lengthAdjust="spacingAndGlyphs">n</text>
<text class="t" x="383.60" y="160.70" font-family="Liberation Serif, serif" font-size="15.50" fill="#303030" textLength="11.40" lengthAdjust="spacingAndGlyphs">=</text>
<text class="t" x="399.80" y="158.50" font-family="Liberation Serif, serif" font-size="15.50" fill="#303030" textLength="14.40" lengthAdjust="spacingAndGlyphs">64</text>
<line x1="311.4" x2="454" y1="268.2" y2="268.2" stroke="#333" stroke-width="0.9"/>
<path d="M457.2 268.2 L452.8 266.6 L452.8 269.8 Z" fill="#111"/>
<line x1="383.3" x2="383.3" y1="299.8" y2="240" stroke="#333" stroke-width="0.9"/>
<path d="M383.3 236.2 L381.7 240.6 L384.9 240.6 Z" fill="#111"/>
<path d="M383.4 268 L449.2 266.4 L446.4 252.6 Q446.2 251 444.6 251 L320.5 251 Q318.4 251 317.8 253.2 C314.6 262,314.6 274,317.8 282.8 Q318.4 285 320.5 285 L444.6 285 Q446.2 285 446.4 283.4 L449.2 270 Z" fill="none" stroke="#ff9000" stroke-width="1.6" stroke-linejoin="round"/>
<path d="M388 267.9 L393.3 267.2 C396.6 266.8,397.9 265.2,397.15 262.15L396.87 260.54L396.52 258.98L396.11 257.47L395.63 256.01L395.09 254.62L394.50 253.30L393.86 252.05L393.16 250.90L392.42 249.83L391.63 248.86L390.81 247.99L389.95 247.23L389.07 246.58L388.15 246.05L387.22 245.63L386.27 245.33L385.32 245.16L384.36 245.10L383.39 245.17L382.44 245.36L381.49 245.66L380.56 246.09L379.65 246.64L378.77 247.30L377.91 248.07L377.09 248.94L376.31 249.92L375.57 251.00L374.88 252.16L374.24 253.41L373.65 254.74L373.12 256.14L372.65 257.60L372.25 259.12L371.90 260.69L371.63 262.29L371.42 263.93L371.28 265.59L371.21 267.26L371.21 268.94L371.28 270.61L371.42 272.27L371.63 273.91L371.90 275.51L372.25 277.08L372.65 278.60L373.12 280.06L373.65 281.46L374.24 282.79L374.88 284.04L375.57 285.20L376.31 286.28L377.09 287.26L377.91 288.13L378.77 288.90L379.65 289.56L380.56 290.11L381.49 290.54L382.44 290.84L383.39 291.03L384.36 291.10L385.32 291.04L386.27 290.87L387.22 290.57L388.15 290.15L389.07 289.62L389.95 288.97L390.81 288.21L391.63 287.34L392.42 286.37L393.16 285.30L393.86 284.15L394.50 282.90L395.09 281.58L395.63 280.19L396.11 278.73L396.52 277.22L396.87 275.66L397.15 274.05C397.9 271,396.6 269.5,393.3 269.1 L388 268.4" fill="none" stroke="#12a012" stroke-width="1.6" stroke-linejoin="round"/>
<path d="M383.4 268 L449.3 266.5 M383.4 268.4 L449.3 269.9" fill="none" stroke="#ff9000" stroke-width="1.5"/>
<text class="t" x="311.80" y="229.10" font-family="Liberation Serif, serif" font-size="18.50" fill="#303030" textLength="4.40" lengthAdjust="spacingAndGlyphs">(</text>
<text class="t" x="317.40" y="228.40" font-family="Liberation Serif, serif" font-size="15.50" fill="#303030" textLength="8.00" lengthAdjust="spacingAndGlyphs">d</text>
<text class="t" x="326.90" y="229.10" font-family="Liberation Serif, serif" font-size="18.50" fill="#303030" textLength="4.40" lengthAdjust="spacingAndGlyphs">)</text>
<text class="t" x="370.50" y="227.80" font-family="Liberation Serif, serif" font-size="15.50" fill="#303030" font-style="italic" textLength="9.00" lengthAdjust="spacingAndGlyphs">p</text>
<text class="t" x="379.60" y="230.30" font-family="Liberation Serif, serif" font-size="10.80" fill="#303030" font-style="italic" textLength="4.60" lengthAdjust="spacingAndGlyphs">z</text>
<text class="t" x="451.60" y="279.50" font-family="Liberation Serif, serif" font-size="15.00" fill="#303030" font-style="italic" textLength="6.20" lengthAdjust="spacingAndGlyphs">z</text>
<text class="t" x="393.30" y="246.80" font-family="Liberation Serif, serif" font-size="15.50" fill="#12a012" textLength="8.20" lengthAdjust="spacingAndGlyphs">×</text>
<text class="t" x="403.40" y="246.80" font-family="Liberation Serif, serif" font-size="15.50" fill="#12a012" textLength="18.60" lengthAdjust="spacingAndGlyphs">1.5</text>
<text class="t" x="427.30" y="246.80" font-family="Liberation Serif, serif" font-size="15.50" fill="#12a012" textLength="2.80" lengthAdjust="spacingAndGlyphs">·</text>
<text class="t" x="435.40" y="246.80" font-family="Liberation Serif, serif" font-size="15.50" fill="#12a012" textLength="14.60" lengthAdjust="spacingAndGlyphs">10</text>
<text class="t" x="450.60" y="241.50" font-family="Liberation Serif, serif" font-size="10.80" fill="#12a012" textLength="5.00" lengthAdjust="spacingAndGlyphs">3</text>
<line x1="480.3" x2="552" y1="267.2" y2="267.2" stroke="#333" stroke-width="0.9"/>
<path d="M556 267.2 L551.6 265.6 L551.6 268.8 Z" fill="#111"/>
<line x1="494.7" x2="494.7" y1="297.6" y2="238" stroke="#333" stroke-width="0.9"/>
<path d="M494.7 234.4 L493.1 238.8 L496.3 238.8 Z" fill="#111"/>
<path d="M494.7 267.2 L500 267.2 L500 241.7 Q500 240.7 501 240.7 L510.1 240.7 Q511.1 240.7 511.1 241.7 L511.1 291.8 Q511.1 292.8 512.1 292.8 L530.9 292.8 Q531.9 292.8 531.9 291.8 L531.9 241.7 Q531.9 240.7 532.9 240.7 L541.9 240.7 Q542.9 240.7 542.9 241.7 L542.9 267.2 L548.5 267.2" fill="none" stroke="#ff9000" stroke-width="1.7" stroke-dasharray="3 1.5"/>
<path d="M494.7 267.2 L500 267.2 L500 262.4 L542.9 262.4 L542.9 267.2 L548.5 267.2" fill="none" stroke="#12a012" stroke-width="1.5" stroke-dasharray="3.2 1.5"/>
<text class="t" x="454.20" y="227.60" font-family="Liberation Serif, serif" font-size="18.50" fill="#303030" textLength="4.40" lengthAdjust="spacingAndGlyphs">(</text>
<text class="t" x="459.80" y="226.90" font-family="Liberation Serif, serif" font-size="15.50" fill="#303030" textLength="6.40" lengthAdjust="spacingAndGlyphs">e</text>
<text class="t" x="466.70" y="227.60" font-family="Liberation Serif, serif" font-size="18.50" fill="#303030" textLength="4.40" lengthAdjust="spacingAndGlyphs">)</text>
<text class="t" x="477.20" y="226.90" font-family="Liberation Serif, serif" font-size="15.50" fill="#303030" textLength="8.40" lengthAdjust="spacingAndGlyphs">ƒ</text>
<text class="t" x="486.40" y="227.60" font-family="Liberation Serif, serif" font-size="18.50" fill="#303030" textLength="4.40" lengthAdjust="spacingAndGlyphs">(</text>
<text class="t" x="492.00" y="226.90" font-family="Liberation Serif, serif" font-size="15.50" fill="#303030" font-style="italic" textLength="5.00" lengthAdjust="spacingAndGlyphs">t</text>
<text class="t" x="497.50" y="227.60" font-family="Liberation Serif, serif" font-size="18.50" fill="#303030" textLength="4.40" lengthAdjust="spacingAndGlyphs">)</text>
<text class="t" x="552.20" y="278.00" font-family="Liberation Serif, serif" font-size="15.00" fill="#303030" font-style="italic" textLength="4.60" lengthAdjust="spacingAndGlyphs">t</text>
</svg>
</body></html>
